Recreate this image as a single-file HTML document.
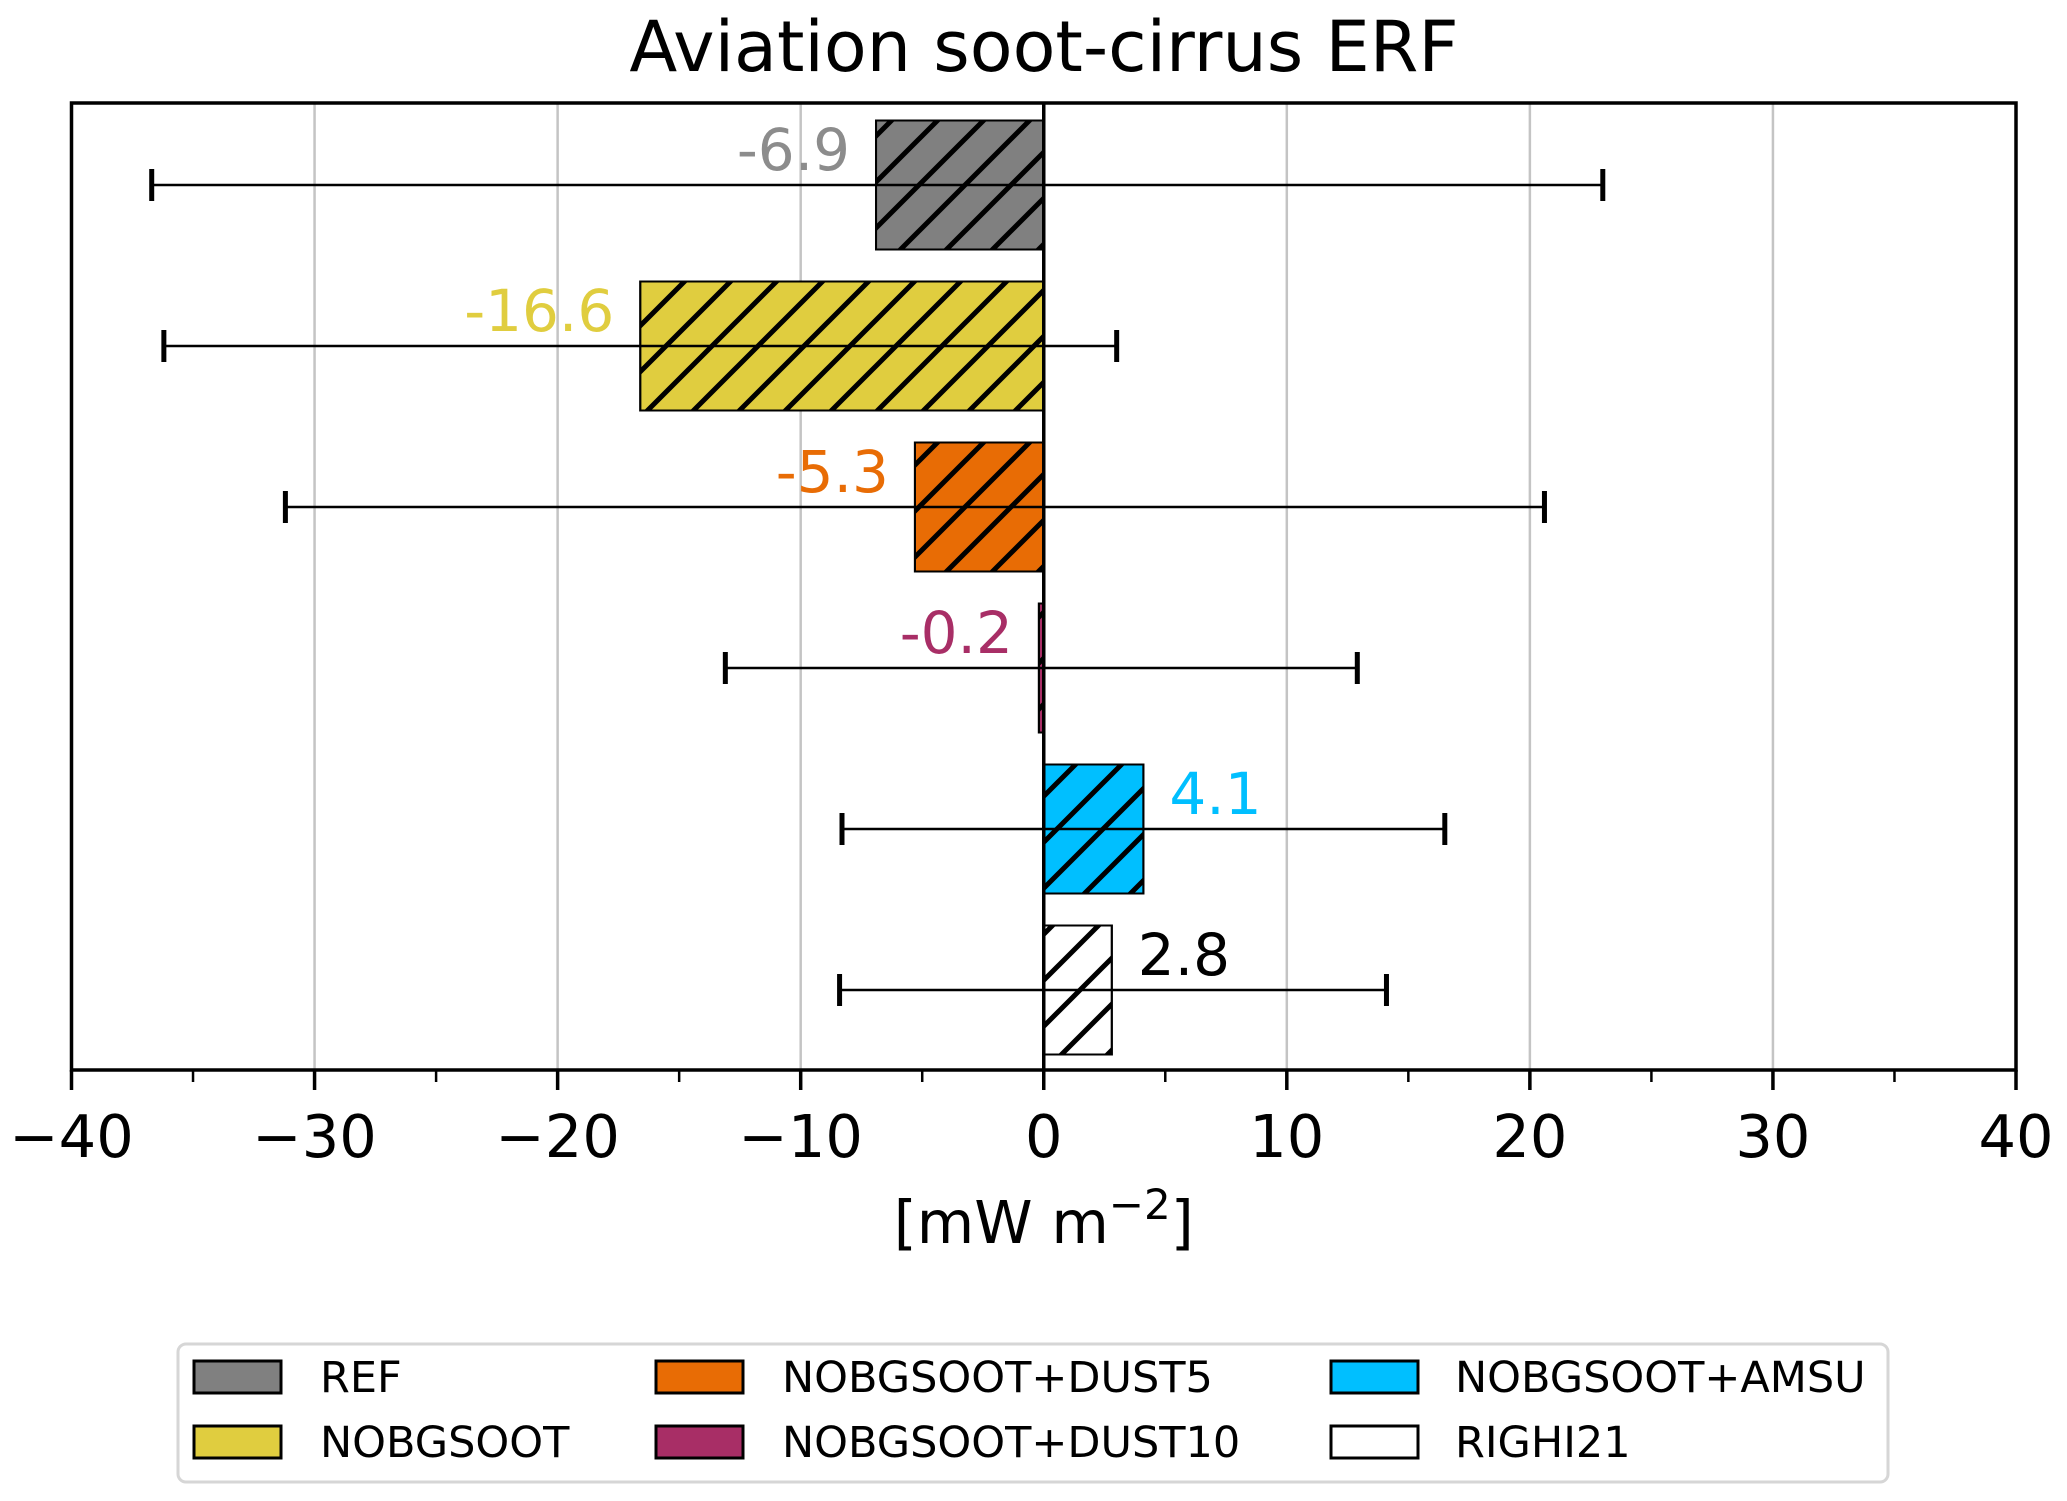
<!DOCTYPE html>
<html><head><meta charset="utf-8">
<style>
html,body{margin:0;padding:0;background:#fff;}
svg{display:block;font-family:"DejaVu Sans","Liberation Sans",sans-serif;}
</style></head>
<body>
<svg id="chart" width="2067" height="1501" viewBox="0 0 2067 1501" xmlns="http://www.w3.org/2000/svg">
<defs>
<pattern id="hatch" patternUnits="userSpaceOnUse" width="46" height="46">
<path d="M-4,50 L50,-4 M-27,27 L27,-27 M19,73 L73,19" stroke="#000" stroke-width="5"/>
</pattern>
</defs>
<text x="1044" y="71" font-size="70" text-anchor="middle">Aviation soot-cirrus ERF</text>
<g id="grid"></g>
<g id="bars"></g>
<g id="axes"></g>
<g id="legend"></g>
</svg>
<script>
const categories = ["REF","NOBGSOOT","NOBGSOOT+DUST5","NOBGSOOT+DUST10","NOBGSOOT+AMSU","RIGHI21"];
const values = [-6.9,-16.6,-5.3,-0.2,4.1,2.8];
const errLow = [-36.7,-36.2,-31.2,-13.1,-8.3,-8.4];
const errHigh = [23.0,3.0,20.6,12.9,16.5,14.1];
const colors = ["#808080","#e0cd3f","#e86c05","#a82e66","#00bfff","#ffffff"];
const labelColors = ["#8c8c8c","#e0cd3f","#e86c05","#a82e66","#00bfff","#000000"];
const xTicks = [-40,-30,-20,-10,0,10,20,30,40];
const xMinorTicks = [-35,-25,-15,-5,5,15,25,35];

const NS="http://www.w3.org/2000/svg";
const L=71.5,R=2016,T=103,B=1070;
const xMin=-40,xMax=40;
function xs(v){return L+(v-xMin)/(xMax-xMin)*(R-L);}
const band=161.0, y0=185;
function ys(i){return y0+i*band;}
const barH=129;
function mk(tag,attrs,parent){const e=document.createElementNS(NS,tag);for(const k in attrs)e.setAttribute(k,attrs[k]);parent.appendChild(e);return e;}
const grid=document.getElementById('grid'),bars=document.getElementById('bars'),axes=document.getElementById('axes'),legend=document.getElementById('legend');

xTicks.forEach(t=>{
  if(t===xMin||t===xMax)return;
  const g=mk('line',{x1:xs(t),x2:xs(t),y1:T,y2:B,stroke:'#c4c4c4','stroke-width':2.5},grid);
  
  
});

categories.forEach((c,i)=>{
  const v=values[i],cy=ys(i);
  const x1=Math.min(xs(0),xs(v)),w=Math.abs(xs(v)-xs(0));
  const r=mk('rect',{x:x1,y:cy-barH/2,width:w,height:barH,fill:colors[i],stroke:'#000','stroke-width':2},bars);
  
  
  const h=mk('rect',{x:x1,y:cy-barH/2,width:w,height:barH,fill:'url(#hatch)',stroke:'#000','stroke-width':2},bars);
  
  
  const el=mk('line',{x1:xs(errLow[i]),x2:xs(errHigh[i]),y1:cy,y2:cy,stroke:'#000','stroke-width':2.5},bars);
  
  
  [errLow[i],errHigh[i]].forEach(e=>{
    const cap=mk('line',{x1:xs(e),x2:xs(e),y1:cy-16,y2:cy+16,stroke:'#000','stroke-width':5},bars);
    
    
  });
  const neg=v<0;
  const lt=mk('text',{x:neg?xs(v)-26:xs(v)+26,y:cy-15,'font-size':58,fill:labelColors[i],'text-anchor':neg?'end':'start'},bars);
  lt.textContent=v.toFixed(1);
  
  
});

const zl=mk('line',{x1:xs(0),x2:xs(0),y1:T,y2:B,stroke:'#000','stroke-width':3.5},axes);


const fr=mk('rect',{x:L,y:T,width:R-L,height:B-T,fill:'none',stroke:'#000','stroke-width':3.5},axes);


xTicks.forEach(t=>{
  const tk=mk('line',{x1:xs(t),x2:xs(t),y1:B,y2:B+20,stroke:'#000','stroke-width':3.5},axes);
  
  
  const tl=mk('text',{x:xs(t),y:1157,'font-size':59,'text-anchor':'middle'},axes);
  tl.textContent=(t<0?'\u2212':'')+Math.abs(t);
  
  
});
xMinorTicks.forEach(t=>{
  const tk=mk('line',{x1:xs(t),x2:xs(t),y1:B,y2:B+12,stroke:'#000','stroke-width':2.5},axes);
  
  
});
const xl=mk('text',{x:xs(0),y:1243,'font-size':59,'text-anchor':'middle'},axes);
xl.innerHTML='[mW m<tspan dy="-24" font-size="42">\u22122</tspan><tspan dy="24">]</tspan>';



const lb=mk('rect',{x:178,y:1344,width:1710,height:138,rx:8,fill:'#fff',stroke:'#d6d6d6','stroke-width':3},legend);


const colPatch=[194,656,1331],colText=[320,782,1455],rowY=[1377,1442];
categories.forEach((c,i)=>{
  const col=Math.floor(i/2),row=i%2;
  const p=mk('rect',{x:colPatch[col],y:rowY[row]-16,width:87,height:32,fill:colors[i],stroke:'#000','stroke-width':3},legend);
  
  
  const t=mk('text',{x:colText[col],y:rowY[row]+15,'font-size':43},legend);
  t.textContent=c;
  
  
});
</script>
</body></html>
